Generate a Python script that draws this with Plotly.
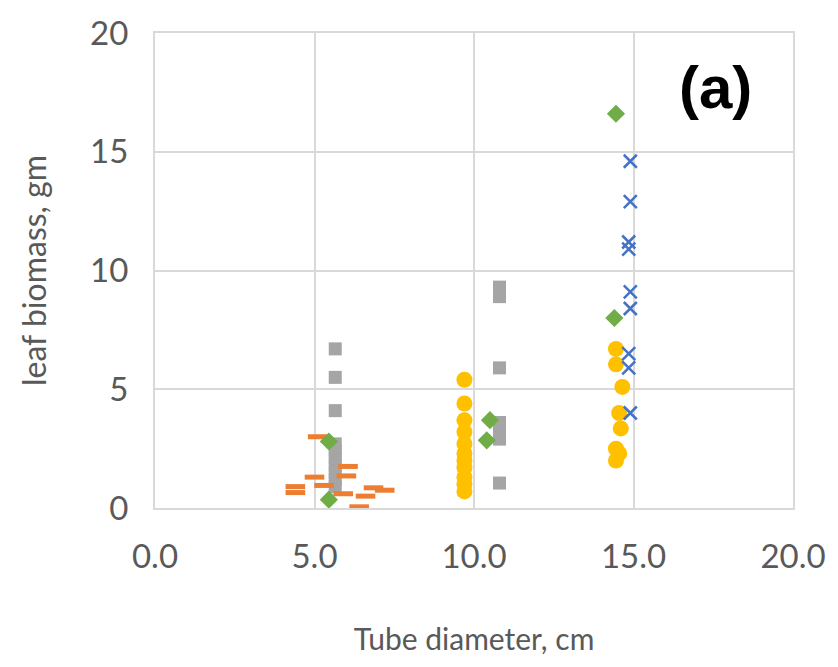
import plotly.graph_objects as go

# Series data (x = tube diameter cm, y = leaf biomass gm)
blue_x = [14.9, 14.9, 14.85, 14.85, 14.9, 14.9, 14.85, 14.85, 14.9]
blue_y = [14.6, 12.9, 11.2, 10.9, 9.1, 8.4, 6.5, 5.9, 4.0]

orange_x = [5.1, 4.4, 4.4, 5.3, 5.0, 6.05, 6.0, 5.9, 6.6, 6.85, 7.2, 6.4]
orange_y = [3.0, 0.9, 0.65, 0.95, 1.3, 1.75, 1.35, 0.6, 0.5, 0.85, 0.75, 0.05]

gray_x = [5.65, 5.65, 5.65, 5.65, 5.65, 5.65, 5.65, 5.65, 5.65, 5.65,
          10.8, 10.8, 10.8, 10.8, 10.8, 10.8, 10.8]
gray_y = [6.7, 5.5, 4.1, 2.7, 2.4, 2.1, 1.8, 1.5, 1.2, 0.9,
          9.3, 8.9, 5.9, 3.6, 3.2, 2.9, 1.05]

yellow_x = [9.7, 9.7, 9.7, 9.7, 9.7, 9.7, 9.7, 9.7, 9.7, 9.7, 9.7,
            14.45, 14.45, 14.65, 14.55, 14.6, 14.45, 14.55, 14.45]
yellow_y = [5.4, 4.4, 3.7, 3.2, 2.7, 2.3, 2.0, 1.7, 1.3, 1.0, 0.7,
            6.7, 6.05, 5.1, 4.0, 3.35, 2.5, 2.3, 2.0]

green_x = [14.45, 14.4, 10.5, 10.4, 5.45, 5.45]
green_y = [16.6, 8.0, 3.7, 2.85, 2.8, 0.35]

x_ticks = [0, 5, 10, 15, 20]
x_labels = ["0.0", "5.0", "10.0", "15.0", "20.0"]
y_ticks = [0, 5, 10, 15, 20]

fig = go.Figure()
fig.add_trace(go.Scatter(x=gray_x, y=gray_y, mode="markers",
                         marker=dict(symbol="square", size=13, color="#A5A5A5")))
fig.add_trace(go.Scatter(x=orange_x, y=orange_y, mode="markers",
                         marker=dict(symbol="line-ew", size=14,
                                     line=dict(width=5, color="#ED7D31"))))
fig.add_trace(go.Scatter(x=yellow_x, y=yellow_y, mode="markers",
                         marker=dict(symbol="circle", size=16, color="#FFC000")))
fig.add_trace(go.Scatter(x=blue_x, y=blue_y, mode="markers",
                         marker=dict(symbol="x-thin", size=13,
                                     line=dict(width=2.5, color="#4472C4"))))
fig.add_trace(go.Scatter(x=green_x, y=green_y, mode="markers",
                         marker=dict(symbol="diamond", size=14, color="#70AD47")))

fig.add_annotation(x=0.878, y=0.885, xref="paper", yref="paper", text="<b>(a)</b>",
                   xanchor="center", yanchor="middle",
                   showarrow=False, font=dict(size=60, color="#000000",
                                              family="Liberation Sans Narrow, Liberation Sans, sans-serif"))

font_family = "Lato, Open Sans, sans-serif"
fig.update_layout(
    width=838, height=667,
    margin=dict(l=155, r=43, t=30, b=159),
    paper_bgcolor="white", plot_bgcolor="white",
    showlegend=False,
    font=dict(family=font_family, color="#595959", size=28),
    xaxis=dict(range=[0, 20], tickvals=x_ticks, ticktext=x_labels,
               showgrid=True, gridcolor="#D9D9D9", gridwidth=2,
               showline=True, linecolor="#D9D9D9", linewidth=2, mirror=True,
               zeroline=False, ticks="", ticklabelstandoff=18,
               tickfont=dict(size=33, color="#595959"),
               title=dict(text="Tube diameter, cm", font=dict(size=30, color="#595959"),
                          standoff=55)),
    yaxis=dict(range=[0, 20], tickvals=y_ticks,
               showgrid=True, gridcolor="#D9D9D9", gridwidth=2,
               showline=True, linecolor="#D9D9D9", linewidth=2, mirror=True,
               zeroline=False, ticks="", ticklabelstandoff=18,
               tickfont=dict(size=33, color="#595959"),
               title=dict(text="leaf biomass, gm", font=dict(size=32, color="#595959"),
                          standoff=34)),
)

fig.write_html("out.html")
